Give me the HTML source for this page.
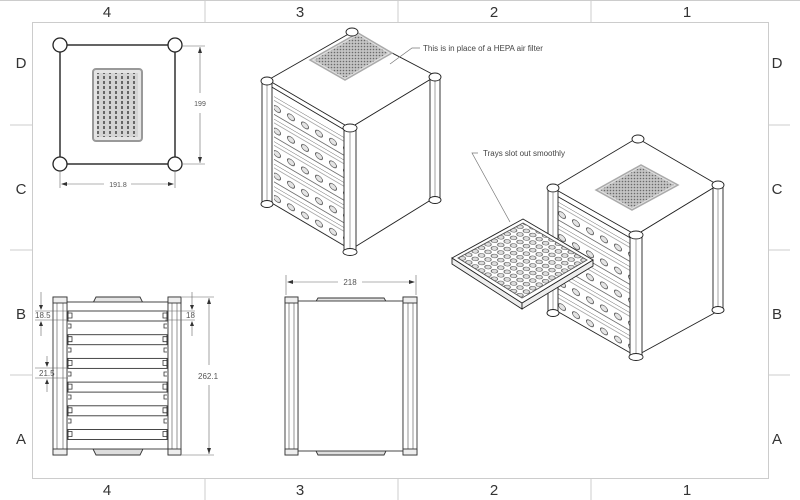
<!DOCTYPE html>
<html><head><meta charset="utf-8"><style>
html,body{margin:0;padding:0;background:#fff;}
svg{display:block;font-family:"Liberation Sans",sans-serif;}
</style></head><body>
<svg width="800" height="500" viewBox="0 0 800 500" xmlns="http://www.w3.org/2000/svg">
<defs>
<pattern id="tr1" patternUnits="userSpaceOnUse" width="14" height="22.5" patternTransform="matrix(1,0.585,0,1,270,94)">
 <line x1="0" y1="0" x2="14" y2="0" stroke="#333" stroke-width="0.8"/>
 <line x1="0" y1="4" x2="14" y2="4" stroke="#555" stroke-width="0.6"/>
 <ellipse cx="7" cy="11" rx="3.6" ry="2.8" fill="#e4e4e4" stroke="#333" stroke-width="0.7"/>
 <line x1="0" y1="18" x2="14" y2="18" stroke="#444" stroke-width="0.7"/>
</pattern>
<pattern id="tr2" patternUnits="userSpaceOnUse" width="14" height="23" patternTransform="matrix(1,0.58,0,1,555,200)">
 <line x1="0" y1="0" x2="14" y2="0" stroke="#333" stroke-width="0.8"/>
 <line x1="0" y1="4" x2="14" y2="4" stroke="#555" stroke-width="0.6"/>
 <ellipse cx="7" cy="11" rx="3.6" ry="2.8" fill="#e4e4e4" stroke="#333" stroke-width="0.7"/>
 <line x1="0" y1="18" x2="14" y2="18" stroke="#444" stroke-width="0.7"/>
</pattern>
<pattern id="holes" patternUnits="userSpaceOnUse" width="10" height="10" patternTransform="matrix(0.64,-0.35,0.64,0.41,456,258)">
 <circle cx="5" cy="5" r="3.6" fill="#ddd" stroke="#444" stroke-width="0.8"/>
</pattern>
<pattern id="dots" patternUnits="userSpaceOnUse" width="3" height="3">
 <rect width="3" height="3" fill="#c4c4c4"/><circle cx="1.5" cy="1.5" r="0.8" fill="#6a6a6a"/>
</pattern>
<pattern id="dots2" patternUnits="userSpaceOnUse" width="6" height="5">
 <rect width="6" height="5" fill="#d4d4d4"/><rect x="1" y="1" width="2" height="3" fill="#666"/>
</pattern>
</defs>

<!-- frame -->
<g stroke="#ccc" stroke-width="1" fill="none">
 <line x1="0" y1="0.5" x2="800" y2="0.5"/>
 <rect x="32.5" y="22.5" width="736" height="456"/>
 <line x1="205" y1="0" x2="205" y2="22"/><line x1="398" y1="0" x2="398" y2="22"/><line x1="591" y1="0" x2="591" y2="22"/>
 <line x1="205" y1="478" x2="205" y2="500"/><line x1="398" y1="478" x2="398" y2="500"/><line x1="591" y1="478" x2="591" y2="500"/>
 <line x1="10" y1="125" x2="32" y2="125"/><line x1="10" y1="250" x2="32" y2="250"/><line x1="10" y1="375" x2="32" y2="375"/>
 <line x1="768" y1="125" x2="790" y2="125"/><line x1="768" y1="250" x2="790" y2="250"/><line x1="768" y1="375" x2="790" y2="375"/>
</g>
<g font-size="15" fill="#333" text-anchor="middle">
 <text x="107" y="17">4</text><text x="300" y="17">3</text><text x="494" y="17">2</text><text x="687" y="17">1</text>
 <text x="107" y="495">4</text><text x="300" y="495">3</text><text x="494" y="495">2</text><text x="687" y="495">1</text>
 <text x="21" y="68">D</text><text x="21" y="194">C</text><text x="21" y="319">B</text><text x="21" y="444">A</text>
 <text x="777" y="68">D</text><text x="777" y="194">C</text><text x="777" y="319">B</text><text x="777" y="444">A</text>
</g>

<!-- top view -->
<g stroke="#222" fill="none">
 <rect x="60" y="45" width="115" height="119" stroke-width="1.4"/>
 <rect x="93" y="69" width="49" height="72" rx="3" fill="#e4e4e4" stroke="#999" stroke-width="2"/>
 <rect x="97" y="73" width="41" height="64" fill="url(#dots2)" stroke="none"/>
 <g fill="#fff" stroke-width="1.3">
  <circle cx="60" cy="45" r="7"/><circle cx="175" cy="45" r="7"/><circle cx="60" cy="164" r="7"/><circle cx="175" cy="164" r="7"/>
 </g>
</g>
<g stroke="#666" stroke-width="0.6" fill="none">
 <line x1="182" y1="46" x2="205" y2="46"/><line x1="182" y1="164" x2="205" y2="164"/>
 <line x1="200" y1="47" x2="200" y2="93"/><line x1="200" y1="113" x2="200" y2="163"/>
 <line x1="60" y1="170" x2="60" y2="188"/><line x1="175" y1="170" x2="175" y2="188"/>
 <line x1="62" y1="184" x2="104" y2="184"/><line x1="131" y1="184" x2="173" y2="184"/>
</g>
<g fill="#333"><path d="M200 47l-2 6h4z M200 163l-2-6h4z M61 184l6-2v4z M174 184l-6-2v4z"/></g>
<g font-size="7" fill="#555" text-anchor="middle"><text x="200" y="106">199</text><text x="118" y="187">191.8</text></g>

<!-- side view -->
<g stroke="#333" stroke-width="0.9" fill="#fff">
 <path d="M93 303l3-6h44l3 6z" fill="#e5e5e5"/>
 <path d="M93 449l3 6h44l3-6z" fill="#ddd"/>
 <rect x="67" y="302" width="101" height="147"/>
 <g fill="#fff">
  <rect x="68" y="311" width="99" height="10"/><rect x="68" y="334.7" width="99" height="10"/><rect x="68" y="358.4" width="99" height="10"/>
  <rect x="68" y="382.1" width="99" height="10"/><rect x="68" y="405.8" width="99" height="10"/><rect x="68" y="429.5" width="99" height="10"/>
 </g>
 <g fill="none" stroke-width="0.8">
  <path d="M68 313h4v5h-4 M167 313h-4v5h4 M68 336.7h4v5h-4 M167 336.7h-4v5h4 M68 360.4h4v5h-4 M167 360.4h-4v5h4 M68 384.1h4v5h-4 M167 384.1h-4v5h4 M68 407.8h4v5h-4 M167 407.8h-4v5h4 M68 431.5h4v5h-4 M167 431.5h-4v5h4"/>
  <path d="M68 324h3v4h-3 M167 324h-3v4h3 M68 348h3v4h-3 M167 348h-3v4h3 M68 372h3v4h-3 M167 372h-3v4h3 M68 395h3v4h-3 M167 395h-3v4h3 M68 419h3v4h-3 M167 419h-3v4h3"/>
 </g>
 <rect x="53" y="297" width="14" height="158" fill="#fff"/>
 <rect x="168" y="297" width="13" height="158" fill="#fff"/>
 <line x1="57" y1="303" x2="57" y2="449" stroke="#888"/><line x1="63" y1="303" x2="63" y2="449" stroke="#888"/>
 <line x1="172" y1="303" x2="172" y2="449" stroke="#888"/><line x1="177" y1="303" x2="177" y2="449" stroke="#888"/>
 <rect x="53" y="297" width="14" height="6" fill="#eee"/><rect x="168" y="297" width="13" height="6" fill="#eee"/>
 <rect x="53" y="449" width="14" height="6" fill="#eee"/><rect x="168" y="449" width="13" height="6" fill="#eee"/>
</g>
<g stroke="#666" stroke-width="0.6" fill="none">
 <line x1="35" y1="311" x2="68" y2="311"/><line x1="35" y1="320" x2="68" y2="320"/>
 <line x1="41" y1="292" x2="41" y2="305"/><line x1="41" y1="325" x2="41" y2="336"/>
 <line x1="165" y1="311" x2="195" y2="311"/><line x1="165" y1="320" x2="195" y2="320"/>
 <line x1="192" y1="292" x2="192" y2="305"/><line x1="192" y1="325" x2="192" y2="336"/>
 <line x1="35" y1="368" x2="68" y2="368"/><line x1="35" y1="378" x2="68" y2="378"/>
 <line x1="47" y1="356" x2="47" y2="364"/><line x1="47" y1="382" x2="47" y2="392"/>
 <line x1="182" y1="297" x2="214" y2="297"/><line x1="182" y1="455" x2="214" y2="455"/>
 <line x1="209" y1="298" x2="209" y2="365"/><line x1="209" y1="385" x2="209" y2="454"/>
</g>
<g fill="#333"><path d="M41 310l-2-5h4z M41 321l-2 5h4z M192 310l-2-5h4z M192 321l-2 5h4z M47 367l-2-5h4z M47 379l-2 5h4z M209 298l-2 6h4z M209 454l-2-6h4z"/></g>
<g font-size="8" fill="#555">
 <text x="35" y="318">18.5</text><text x="186" y="318">18</text><text x="39" y="376">21.5</text><text x="198" y="379">262.1</text>
</g>

<!-- front view -->
<g stroke="#333" stroke-width="0.9" fill="#fff">
 <path d="M315 303l3-5h66l3 5z" fill="#e5e5e5"/>
 <path d="M315 449l3 6h66l3-6z" fill="#ddd"/>
 <rect x="298" y="301" width="105" height="150"/>
 <rect x="285" y="297" width="13" height="158"/><rect x="403" y="297" width="14" height="158"/>
 <line x1="289" y1="303" x2="289" y2="449" stroke="#888"/><line x1="294" y1="303" x2="294" y2="449" stroke="#888"/>
 <line x1="408" y1="303" x2="408" y2="449" stroke="#888"/><line x1="413" y1="303" x2="413" y2="449" stroke="#888"/>
 <rect x="285" y="297" width="13" height="6" fill="#eee"/><rect x="403" y="297" width="14" height="6" fill="#eee"/>
 <rect x="285" y="449" width="13" height="6" fill="#eee"/><rect x="403" y="449" width="14" height="6" fill="#eee"/>
</g>
<g stroke="#666" stroke-width="0.6"><line x1="286" y1="275" x2="286" y2="295"/><line x1="416" y1="275" x2="416" y2="295"/>
 <line x1="288" y1="282" x2="338" y2="282"/><line x1="362" y1="282" x2="414" y2="282"/></g>
<path d="M287 282l6-2v4z M415 282l-6-2v4z" fill="#333"/>
<text x="350" y="285" font-size="8" fill="#555" text-anchor="middle">218</text>

<!-- iso 1 -->
<g stroke="#222" stroke-width="0.9">
 <polygon points="268,80 352,32 436,76 350,128" fill="#fff"/>
 <polygon points="350,128 436,76 434,198 350,250" fill="#fff"/>
 <polygon points="270,86 348,132 348,248 270,202" fill="#fff"/>
 <polygon points="274,95 346,137 346,246 274,204" fill="url(#tr1)" stroke="none"/>
 <polygon points="310,60 358,33 392,53 345,80" fill="#e0e0e0" stroke="#aaa" stroke-width="1.5"/>
 <polygon points="314,60 358,35 388,53 345,78" fill="url(#dots)" stroke="none"/>
 <g fill="#fff">
  <rect x="262" y="80" width="10" height="124"/><rect x="344" y="128" width="12" height="124"/><rect x="430" y="76" width="10" height="124"/>
  <line x1="267" y1="85" x2="267" y2="200" stroke="#999"/><line x1="350" y1="133" x2="350" y2="248" stroke="#999"/><line x1="435" y1="81" x2="435" y2="196" stroke="#999"/>
  <ellipse cx="267" cy="81" rx="6" ry="4"/><ellipse cx="350" cy="128" rx="7" ry="4"/><ellipse cx="435" cy="77" rx="6" ry="4"/><ellipse cx="352" cy="32" rx="6" ry="4"/>
  <ellipse cx="267" cy="204" rx="6" ry="3.5"/><ellipse cx="350" cy="252" rx="7" ry="3.5"/><ellipse cx="435" cy="200" rx="6" ry="3.5"/>
 </g>
</g>
<polyline points="390,64 412,48 420,48" fill="none" stroke="#777" stroke-width="0.7"/>
<text x="423" y="51" font-size="8" fill="#444">This is in place of a HEPA air filter</text>

<!-- iso 2 -->
<g stroke="#222" stroke-width="0.9">
 <polygon points="553,188 637,138 718,185 636,235" fill="#fff"/>
 <polygon points="636,235 718,185 720,310 634,357" fill="#fff"/>
 <polygon points="555,195 634,240 634,355 555,310" fill="#fff"/>
 <polygon points="558,200 631,242 631,353 558,310" fill="url(#tr2)" stroke="none"/>
 <polygon points="596,190 641,165 678,185 632,210" fill="#e0e0e0" stroke="#aaa" stroke-width="1.5"/>
 <polygon points="600,190 641,167 674,185 632,208" fill="url(#dots)" stroke="none"/>
 <g fill="#fff">
  <rect x="548" y="188" width="10" height="125"/><rect x="630" y="235" width="12" height="122"/><rect x="713" y="185" width="10" height="125"/>
  <line x1="553" y1="193" x2="553" y2="310" stroke="#999"/><line x1="636" y1="240" x2="636" y2="354" stroke="#999"/><line x1="718" y1="190" x2="718" y2="307" stroke="#999"/>
  <ellipse cx="553" cy="188" rx="6" ry="4"/><ellipse cx="636" cy="235" rx="7" ry="4"/><ellipse cx="718" cy="185" rx="6" ry="4"/><ellipse cx="638" cy="139" rx="6" ry="4"/>
  <ellipse cx="553" cy="313" rx="6" ry="3.5"/><ellipse cx="636" cy="357" rx="7" ry="3.5"/><ellipse cx="718" cy="310" rx="6" ry="3.5"/>
 </g>
 <!-- pulled tray -->
 <polygon points="452,258 522,303 522,309 452,264" fill="#eee"/>
 <polygon points="522,303 593,260 593,266 522,309" fill="#eee"/>
 <polygon points="452,258 523,219 593,260 522,303" fill="#fff"/>
 <polygon points="458,258 523,223 587,260 522,298" fill="url(#holes)" stroke="#555"/>
</g>
<polyline points="510,222 472,153 478,153" fill="none" stroke="#777" stroke-width="0.7"/>
<text x="483" y="156" font-size="8" fill="#444">Trays slot out smoothly</text>
</svg>
</body></html>
